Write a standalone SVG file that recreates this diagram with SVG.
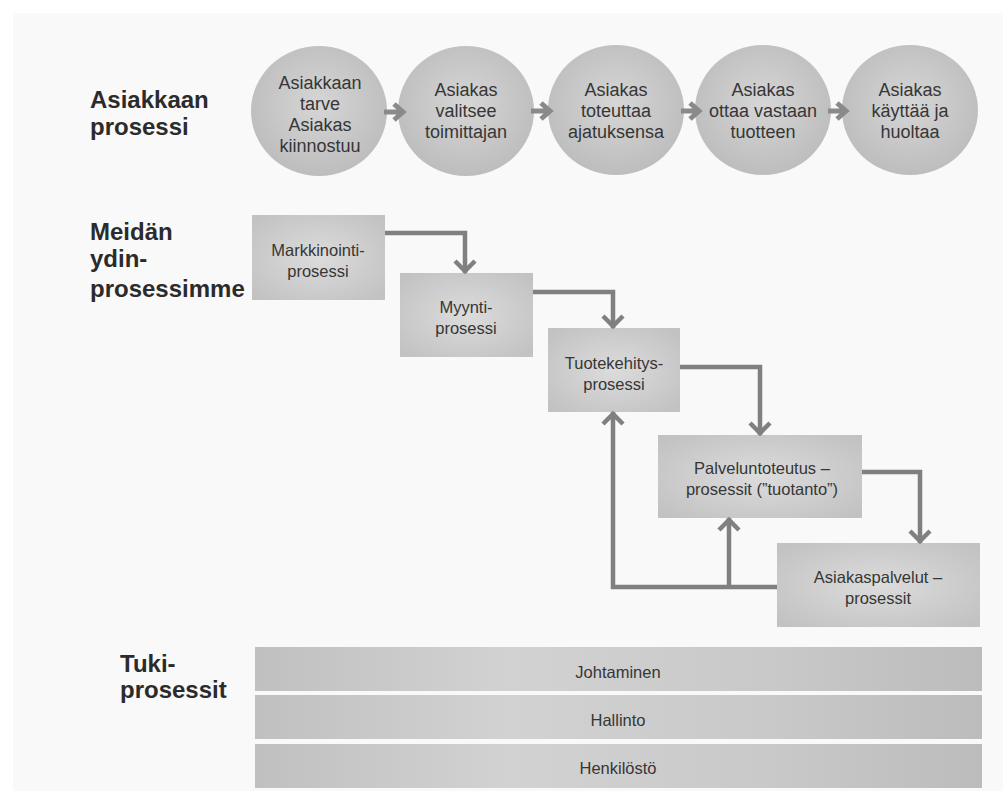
<svg xmlns="http://www.w3.org/2000/svg" width="1003" height="791" viewBox="0 0 1003 791">
<defs>
<radialGradient id="gCirc" cx="50%" cy="45%" r="55%"><stop offset="0" stop-color="#d6d6d6"/><stop offset="1" stop-color="#bdbdbd"/></radialGradient>
<radialGradient id="gBox" cx="50%" cy="50%" r="65%"><stop offset="0" stop-color="#dcdcdc"/><stop offset="1" stop-color="#c2c2c2"/></radialGradient>
<linearGradient id="gBar" x1="0" y1="0" x2="1" y2="0"><stop offset="0" stop-color="#c0c0c0"/><stop offset="0.35" stop-color="#d2d2d2"/><stop offset="0.7" stop-color="#c9c9c9"/><stop offset="1" stop-color="#bcbcbc"/></linearGradient>
<marker id="chev" viewBox="-16 -14 20 28" markerWidth="20" markerHeight="28" markerUnits="userSpaceOnUse" refX="0" refY="0" orient="auto">
<path d="M-12,-10 L-2,0 L-12,10" fill="none" stroke="#808080" stroke-width="4.5"/>
</marker>
</defs>
<style>
.lbl{font-family:"Liberation Sans",Arial,sans-serif;font-weight:bold;font-size:24px;fill:#2b2b2b}
.ct{font-family:"Liberation Sans",Arial,sans-serif;font-size:18px;fill:#363636;text-anchor:middle}
.bt{font-family:"Liberation Sans",Arial,sans-serif;font-size:16.5px;fill:#363636;text-anchor:middle}
.circ{fill:url(#gCirc)}
.box{fill:url(#gBox)}
.bar{fill:url(#gBar)}
.con{fill:none;stroke:#808080;stroke-width:4.5;marker-end:url(#chev)}
.carr{fill:none;stroke:#8a8a8a;stroke-width:5}
</style>
<rect x="0" y="0" width="1003" height="791" fill="#ffffff"/>
<rect x="13" y="13" width="990" height="778" fill="#f9f9f9"/>

<g id="labels">
<text class="lbl" x="90" y="108">Asiakkaan</text>
<text class="lbl" x="90" y="135">prosessi</text>
<text class="lbl" x="90" y="240">Meidän</text>
<text class="lbl" x="90" y="267">ydin-</text>
<text class="lbl" x="90" y="297">prosessimme</text>
<text class="lbl" x="120" y="672">Tuki-</text>
<text class="lbl" x="120" y="698">prosessit</text>
</g>

<g id="c1"><ellipse class="circ" cx="319" cy="111" rx="68" ry="65"/>
<text class="ct" x="320" y="89">Asiakkaan</text><text class="ct" x="320" y="110">tarve</text><text class="ct" x="320" y="131">Asiakas</text><text class="ct" x="320" y="152">kiinnostuu</text></g>
<g id="c2"><ellipse class="circ" cx="466" cy="111" rx="68" ry="65"/>
<text class="ct" x="466" y="96">Asiakas</text><text class="ct" x="466" y="117">valitsee</text><text class="ct" x="466" y="138">toimittajan</text></g>
<g id="c3"><ellipse class="circ" cx="616" cy="110" rx="68" ry="65"/>
<text class="ct" x="616" y="96">Asiakas</text><text class="ct" x="616" y="117">toteuttaa</text><text class="ct" x="616" y="138">ajatuksensa</text></g>
<g id="c4"><ellipse class="circ" cx="763" cy="110" rx="68" ry="65"/>
<text class="ct" x="763" y="96">Asiakas</text><text class="ct" x="763" y="117">ottaa vastaan</text><text class="ct" x="763" y="138">tuotteen</text></g>
<g id="c5"><ellipse class="circ" cx="910" cy="110" rx="68" ry="65"/>
<text class="ct" x="910" y="96">Asiakas</text><text class="ct" x="910" y="117">käyttää ja</text><text class="ct" x="910" y="138">huoltaa</text></g>

<g id="b1"><rect class="box" x="252" y="215" width="133" height="85"/>
<text class="bt" x="318" y="256">Markkinointi-</text><text class="bt" x="318" y="277">prosessi</text></g>
<g id="b2"><rect class="box" x="400" y="273" width="133" height="84"/>
<text class="bt" x="466" y="313">Myynti-</text><text class="bt" x="466" y="334">prosessi</text></g>
<g id="b3"><rect class="box" x="548" y="328" width="132" height="84"/>
<text class="bt" x="614" y="369">Tuotekehitys-</text><text class="bt" x="614" y="390">prosessi</text></g>
<g id="b4"><rect class="box" x="658" y="435" width="204" height="83"/>
<text class="bt" x="762" y="474">Palveluntoteutus –</text><text class="bt" x="762" y="495">prosessit (”tuotanto”)</text></g>
<g id="b5"><rect class="box" x="777" y="543" width="203" height="84"/>
<text class="bt" x="878" y="583">Asiakaspalvelut –</text><text class="bt" x="878" y="604">prosessit</text></g>

<g id="s1"><rect class="bar" x="255" y="647" width="727" height="44"/><text class="bt" x="618" y="678">Johtaminen</text></g>
<g id="s2"><rect class="bar" x="255" y="695" width="727" height="44"/><text class="bt" x="618" y="726">Hallinto</text></g>
<g id="s3"><rect class="bar" x="255" y="744" width="727" height="44"/><text class="bt" x="618" y="774">Henkilöstö</text></g>

<g id="connectors">
<path class="carr" d="M384,112 H401 M394,104 L403,112 L394,120"/>
<path class="carr" d="M531,111 H548 M541,103 L550,111 L541,119"/>
<path class="carr" d="M681,111 H697 M690,103 L699,111 L690,119"/>
<path class="carr" d="M828,111 H844 M837,103 L846,111 L837,119"/>
<path class="con" d="M385,233 H465 V273"/>
<path class="con" d="M533,292 H613 V328"/>
<path class="con" d="M680,367 H760 V435"/>
<path class="con" d="M862,472 H920 V543"/>
<path class="con" d="M777,587 H613 V412"/>
<path class="con" d="M729,587 V518"/>
</g>
</svg>
